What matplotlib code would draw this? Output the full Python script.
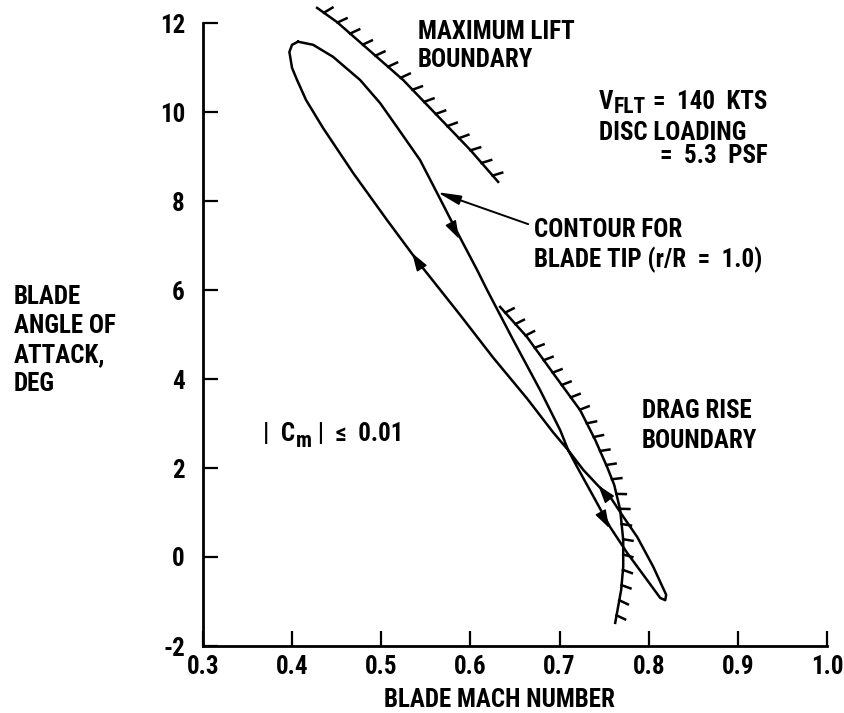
import matplotlib
matplotlib.use("Agg")
import matplotlib.pyplot as plt
from matplotlib import patheffects as pe
from matplotlib.patches import FancyArrowPatch

FONT = ["Roboto Condensed", "DejaVu Sans"]
plt.rcParams["font.family"] = FONT
plt.rcParams["font.weight"] = "bold"

# ---------------- data ----------------
# blade-tip contour, closed loop (descending branch, then ascending branch)
contour_mach = [0.4066, 0.4235, 0.4459, 0.4762, 0.4987, 0.5177, 0.5435, 0.5626,
                0.5828, 0.6075, 0.6187, 0.6479, 0.6782, 0.7007, 0.7097, 0.7209,
                0.7377, 0.7568, 0.7759, 0.7983, 0.8129, 0.8185,
                0.8196, 0.8051, 0.7871, 0.7703, 0.7568, 0.7433, 0.7265, 0.7097,
                0.6928, 0.6636, 0.6255, 0.5884, 0.5413, 0.5065, 0.4684, 0.4347,
                0.4156, 0.4055, 0.3999, 0.3969, 0.3999, 0.4066]
contour_alpha = [11.58, 11.51, 11.24, 10.72, 10.20, 9.66, 8.92, 8.18,
                 7.39, 6.45, 6.00, 4.88, 3.75, 2.85, 2.40, 1.98,
                 1.37, 0.67, 0.09, -0.52, -0.92, -0.97,
                 -0.85, -0.22, 0.45, 0.94, 1.35, 1.60, 1.96, 2.40,
                 2.80, 3.56, 4.48, 5.44, 6.63, 7.57, 8.63, 9.64,
                 10.27, 10.72, 10.99, 11.35, 11.51, 11.58]

# maximum lift boundary
lift_mach = [0.428, 0.4504, 0.5245, 0.5997, 0.6311]
lift_alpha = [12.34, 12.02, 10.72, 9.15, 8.43]

# drag rise boundary
drag_mach = [0.6333, 0.6636, 0.6928, 0.7231, 0.7400, 0.7534, 0.7613, 0.7680,
             0.7714, 0.7714, 0.7691, 0.7624]
drag_alpha = [5.62, 4.94, 4.13, 3.30, 2.63, 2.02, 1.62, 1.06,
              0.38, -0.22, -0.74, -1.48]

# direction arrows on the contour (tip, tail)
arrow_tip_mach = [0.5873, 0.5346, 0.7433, 0.7557]
arrow_tip_alpha = [7.15, 6.83, 1.61, 0.65]
arrow_tail_mach = [0.5792, 0.5435, 0.7542, 0.7476]
arrow_tail_alpha = [7.46, 6.55, 1.34, 0.95]

# pointer from label to contour
pointer_tip = (0.5626, 8.20)
pointer_tail = (0.6648, 7.48)

x_ticks = [0.3, 0.4, 0.5, 0.6, 0.7, 0.8, 0.9, 1.0]
x_tick_labels = ["0.3", "0.4", "0.5", "0.6", "0.7", "0.8", "0.9", "1.0"]
y_ticks = [-2, 0, 2, 4, 6, 8, 10, 12]
y_tick_labels = ["-2", "0", "2", "4", "6", "8", "10", "12"]

# ---------------- figure ----------------
W, H = 844, 713
fig = plt.figure(figsize=(W / 100, H / 100), dpi=100)
ax = fig.add_axes([203 / W, 1 - 646 / H, (827 - 203) / W, (646 - 23) / H])
ax.set_xlim(0.3, 1.0)
ax.set_ylim(-2, 12)
for s in ("top", "right"):
    ax.spines[s].set_visible(False)
for s in ("left", "bottom"):
    ax.spines[s].set_linewidth(2.0)

ax.set_xticks(x_ticks)
ax.set_xticklabels(x_tick_labels)
ax.set_yticks(y_ticks)
ax.set_yticklabels(y_tick_labels)
ax.tick_params(axis="both", direction="in", length=11, width=1.6, labelsize=18)
ax.tick_params(axis="x", pad=6.5)
ax.tick_params(axis="y", pad=13)

LW = 1.8
ax.plot(contour_mach, contour_alpha, color="black", lw=LW,
        solid_joinstyle="round", clip_on=False)

ax.plot(lift_mach, lift_alpha, color="black", lw=LW, clip_on=False,
        path_effects=[pe.withTickedStroke(angle=66, spacing=12, length=0.6)])
ax.plot(drag_mach, drag_alpha, color="black", lw=LW, clip_on=False,
        path_effects=[pe.withTickedStroke(angle=75, spacing=11, length=0.62)])

for tx, ty, sx, sy in zip(arrow_tip_mach, arrow_tip_alpha,
                          arrow_tail_mach, arrow_tail_alpha):
    ax.add_patch(FancyArrowPatch((sx, sy), (tx, ty),
                                 arrowstyle="-|>,head_length=0.8,head_width=0.26",
                                 mutation_scale=14, color="black", lw=1.0,
                                 shrinkA=0, shrinkB=0))

ax.add_patch(FancyArrowPatch(pointer_tail, pointer_tip,
                             arrowstyle="-|>,head_length=1.0,head_width=0.2",
                             mutation_scale=14, color="black", lw=1.4,
                             shrinkA=0, shrinkB=0))


def px(x, y):
    return (x / W, 1 - y / H)


TS = 18


def ftext(x, y, s, **kw):
    kw.setdefault("size", TS)
    return fig.text(*px(x, y), s, va="baseline", ha=kw.pop("ha", "left"),
                    fontweight="bold", **kw)


ftext(418, 39, "MAXIMUM LIFT")
ftext(418, 67, "BOUNDARY")

v = ftext(599, 109, "V")
flt = ax.annotate("FLT", xy=(1, 0), xycoords=v, xytext=(0.5, -3),
                  textcoords="offset points", va="bottom", ha="left",
                  size=15.5, fontweight="bold")
ax.annotate("=  140  KTS", xy=(1, 0), xycoords=flt, xytext=(5, 3),
            textcoords="offset points", va="bottom", ha="left",
            size=TS, fontweight="bold")
ftext(599, 140, "DISC LOADING")
ftext(660, 163, "=  5.3  PSF")

ftext(534, 237, "CONTOUR FOR")
ftext(534, 267, "BLADE TIP (r/R  =  1.0)")

ftext(642, 418, "DRAG RISE")
ftext(642, 448, "BOUNDARY")

c = ftext(263, 441, "|  C")
m = ax.annotate("m", xy=(1, 0), xycoords=c, xytext=(0.5, -4),
                textcoords="offset points", va="bottom", ha="left",
                size=15.5, fontweight="bold")
ax.annotate(" |  \u2264  0.01", xy=(1, 0), xycoords=m, xytext=(0, 4),
            textcoords="offset points", va="bottom", ha="left",
            size=TS, fontweight="bold")

for yy, s in zip([304, 333, 362, 391], ["BLADE", "ANGLE OF", "ATTACK,", "DEG"]):
    ftext(14, yy, s)

ftext(499, 707, "BLADE MACH NUMBER", ha="center")

fig.savefig("out.png", dpi=100)
